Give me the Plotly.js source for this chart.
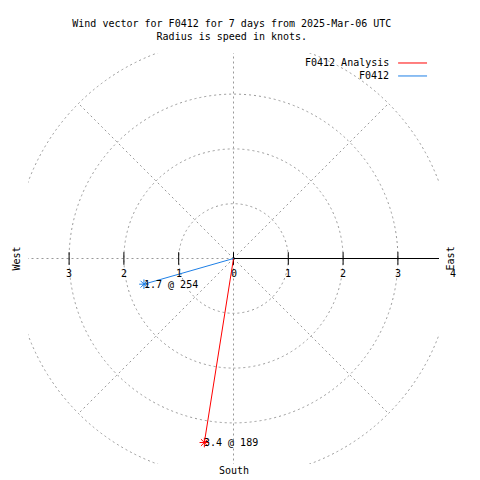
<!DOCTYPE html>
<html>
<head>
<meta charset="utf-8">
<script src="https://cdn.plot.ly/plotly-3.0.1.min.js"></script>
<style>html,body{margin:0;padding:0;background:#fff;}#chart{width:480px;height:480px;}</style>
</head>
<body>
<div id="chart"></div>
<script>
// ---- data ----
const seriesNames = ["F0412 Analysis", "F0412"];
const speeds = [3.4, 1.7];          // knots
const directions = [189, 254];      // degrees, clockwise from north
const seriesColors = ["#ff0000", "#1e7fe6"];
const ringRadii = [1, 2, 3, 4];
const spokeAngles = [0, 45, 135, 180, 225, 270, 315];
const tickValues = [-3, -2, -1, 0, 1, 2, 3, 4];
const tickLabels = ["3", "2", "1", "0", "1", "2", "3", "4"];
const titleLines = ["Wind vector for F0412 for 7 days from 2025-Mar-06 UTC", "Radius is speed in knots."];

// ---- layout helpers ----
const R = 3.75;
const RMAX = 4;
const FONT = "DejaVu Sans Mono";
const fnt = (c) => ({family: FONT, size: 10, color: c || "#000"});
const toPaperX = (v) => (v + R) / (2 * R);
const grid = {color: "#999999", width: 1, dash: "2px,3px"};

const traces = [];
// tick marks on the horizontal axis
const tv = tickValues.filter(v => v < R);
traces.push({
  x: tv, y: tv.map(() => 0),
  mode: "markers", type: "scatter", hoverinfo: "skip", showlegend: false,
  marker: {symbol: "line-ns-open", size: 9, color: "#000", line: {color: "#000", width: 1}}
});
const annotations = [];
seriesNames.forEach((name, i) => {
  const th = directions[i] * Math.PI / 180;
  const ex = speeds[i] * Math.sin(th), ey = speeds[i] * Math.cos(th);
  traces.push({
    x: [0, ex], y: [0, ey], mode: "lines", type: "scatter", name: name,
    line: {color: seriesColors[i], width: 1}, hoverinfo: "skip", showlegend: false
  });
  traces.push({
    x: [ex], y: [ey], mode: "markers", type: "scatter", hoverinfo: "skip", showlegend: false,
    marker: {symbol: "asterisk-open", size: 8, color: seriesColors[i], line: {color: seriesColors[i], width: 1}}
  });
  annotations.push({
    x: ex, y: ey, xref: "x", yref: "y", text: speeds[i].toFixed(1) + " @ " + directions[i],
    showarrow: false, xanchor: "left", yanchor: "middle", xshift: -2, yshift: 0, font: fnt()
  });
  // custom legend (text, then sample line)
  annotations.push({
    x: 0.8835, y: 0.9757 - i * 0.0316, xref: "paper", yref: "paper", text: name,
    showarrow: false, xanchor: "right", yanchor: "middle", font: fnt()
  });
});

tickValues.forEach((v, i) => {
  annotations.push({
    x: toPaperX(v), y: 0, xref: "paper", yref: "y", text: tickLabels[i],
    showarrow: false, xanchor: "center", yanchor: "middle", yshift: -15, font: fnt()
  });
});
annotations.push({x: 1.029, y: 0, xref: "paper", yref: "y", text: "East", textangle: -90,
  showarrow: false, xanchor: "center", yanchor: "middle", font: fnt()});
annotations.push({x: -0.029, y: 0, xref: "paper", yref: "y", text: "West", textangle: -90,
  showarrow: false, xanchor: "center", yanchor: "middle", font: fnt()});
annotations.push({x: 0, y: -0.0146, xref: "x", yref: "paper", text: "South",
  showarrow: false, xanchor: "center", yanchor: "middle", font: fnt()});

const shapes = [];
ringRadii.forEach(r => {
  shapes.push({type: "circle", xref: "x", yref: "y", x0: -r, x1: r, y0: -r, y1: r, line: grid, layer: "below"});
});
spokeAngles.forEach(a => {
  const t = a * Math.PI / 180;
  shapes.push({type: "line", xref: "x", yref: "y", x0: 0, y0: 0,
    x1: RMAX * Math.sin(t), y1: RMAX * Math.cos(t), line: grid, layer: "below"});
});
shapes.push({type: "line", xref: "x", yref: "y", x0: 0, y0: 0, x1: RMAX, y1: 0, line: {color: "#000", width: 1}, layer: "below"});
seriesColors.forEach((c, i) => {
  shapes.push({type: "line", xref: "paper", yref: "paper", x0: 0.9005, x1: 0.9709,
    y0: 0.9757 - i * 0.0316, y1: 0.9757 - i * 0.0316, line: {color: c, width: 1}});
});

const axis = {range: [-R, R], showgrid: false, zeroline: false, showticklabels: false,
  ticks: "", showline: false, fixedrange: true};

const layout = {
  width: 480, height: 480,
  margin: {l: 27.5, r: 40.5, t: 52.5, b: 15.5},
  paper_bgcolor: "#fff", plot_bgcolor: "#fff",
  title: {text: titleLines.join("<br>"), font: fnt(), x: 0.483, xanchor: "center",
    y: 1 - 26.5 / 480, yanchor: "middle", yref: "container"},
  xaxis: axis, yaxis: Object.assign({}, axis),
  showlegend: false, shapes: shapes, annotations: annotations
};

Plotly.newPlot("chart", traces, layout, {displayModeBar: false, staticPlot: true});
</script>
</body>
</html>
